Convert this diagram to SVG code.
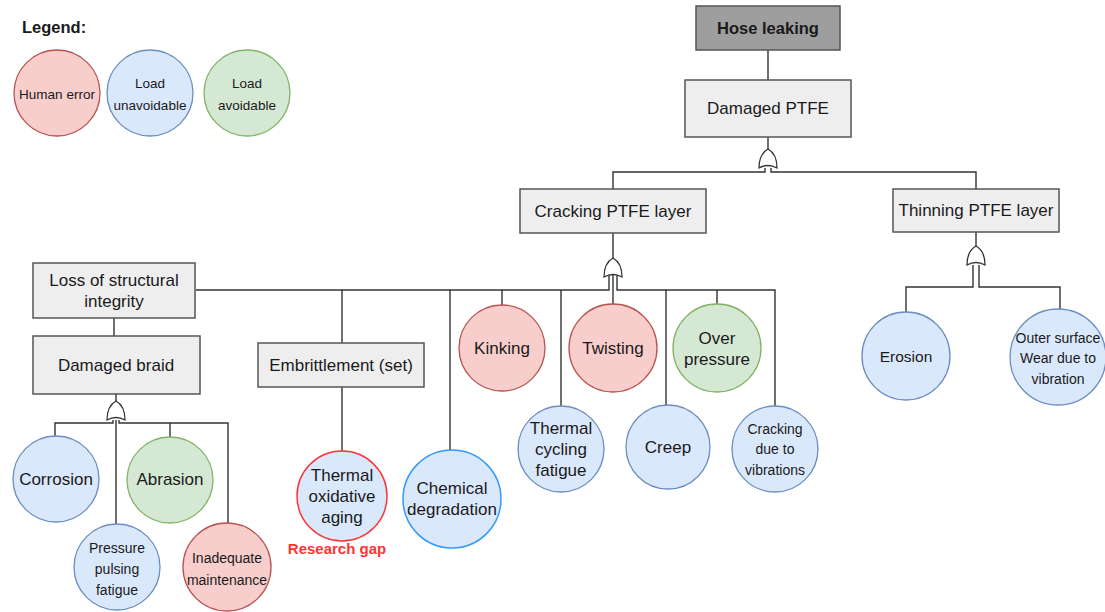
<svg xmlns="http://www.w3.org/2000/svg" width="1105" height="612" viewBox="0 0 1105 612">
<style>
text{font-family:"Liberation Sans",Arial,sans-serif;fill:#1a1a1a;text-anchor:middle;dominant-baseline:central}
.box{fill:#eeeeee;stroke:#555;stroke-width:1.5}
.top{fill:#9e9e9e;stroke:#555;stroke-width:1.5}
.red{fill:#f8cecc;stroke:#b85450;stroke-width:1.3}
.blue{fill:#dae8fc;stroke:#6c8ebf;stroke-width:1.3}
.green{fill:#d5e8d4;stroke:#82b366;stroke-width:1.3}
.gap{fill:#dae8fc;stroke:#ff3333;stroke-width:1.5}
.chem{fill:#dae8fc;stroke:#3399ff;stroke-width:1.5}
.gate{fill:#fff;stroke:#333;stroke-width:1.3}
.c{fill:none;stroke:#333;stroke-width:1.4}
.t17{font-size:17px}
.t14{font-size:14px}
</style>
<defs>
<path id="or" d="M-9,10 Q-9,-4 0,-9 Q9,-4 9,10 Q0,5 -9,10 Z"/>
</defs>
<rect width="1105" height="612" fill="#fff"/>

<g id="connectors">
<line class="c" x1="768" y1="50" x2="768" y2="80"/>
<line class="c" x1="768" y1="137" x2="768" y2="150"/>
<polyline class="c" points="765,168 765,172 613,172 613,189"/>
<polyline class="c" points="771,168 771,172 976,172 976,189"/>
<line class="c" x1="613" y1="233" x2="613" y2="260"/>
<polyline class="c" points="609,275 609,290 196,290"/>
<polyline class="c" points="617,275 617,290 775,290 775,406"/>
<line class="c" x1="613" y1="275" x2="613" y2="304"/>
<line class="c" x1="342" y1="290" x2="342" y2="343"/>
<line class="c" x1="342" y1="387" x2="342" y2="451"/>
<line class="c" x1="450" y1="290" x2="450" y2="450"/>
<line class="c" x1="502" y1="290" x2="502" y2="305"/>
<line class="c" x1="561" y1="290" x2="561" y2="406"/>
<line class="c" x1="666" y1="290" x2="666" y2="406"/>
<line class="c" x1="717" y1="290" x2="717" y2="305"/>
<line class="c" x1="976" y1="232" x2="976" y2="248"/>
<polyline class="c" points="973,265 973,287 906,287 906,312"/>
<polyline class="c" points="979,265 979,287 1060,287 1060,309"/>
<line class="c" x1="114" y1="318" x2="114" y2="336"/>
<line class="c" x1="116" y1="394" x2="116" y2="403"/>
<polyline class="c" points="113,420 113,423 55,423 55,436"/>
<polyline class="c" points="119,420 119,423 228,423 228,523"/>
<line class="c" x1="170" y1="423" x2="170" y2="437"/>
<line class="c" x1="116" y1="420" x2="116" y2="524"/>
</g>

<g id="gates">
<use href="#or" class="gate" transform="translate(768,158)"/>
<use href="#or" class="gate" transform="translate(613,267)"/>
<use href="#or" class="gate" transform="translate(976,255)"/>
<use href="#or" class="gate" transform="translate(116,410)"/>
</g>

<g id="legend">
<text x="22" y="27" style="font-size:16.5px;font-weight:bold;text-anchor:start">Legend:</text>
<circle class="red" cx="57" cy="93" r="43"/>
<text x="57" y="94" style="font-size:13.5px">Human error</text>
<circle class="blue" cx="150" cy="93" r="43"/>
<text x="150" y="83" style="font-size:13.5px">Load</text>
<text x="150" y="105" style="font-size:13.5px">unavoidable</text>
<circle class="green" cx="247" cy="93" r="43"/>
<text x="247" y="83" style="font-size:13.5px">Load</text>
<text x="247" y="105" style="font-size:13.5px">avoidable</text>
</g>

<g id="hose-leaking">
<rect class="top" x="696" y="6" width="144" height="44"/>
<text x="768" y="28" style="font-size:16.5px;font-weight:bold">Hose leaking</text>
</g>
<g id="damaged-ptfe">
<rect class="box" x="685" y="80" width="166" height="57"/>
<text class="t17" x="768" y="108">Damaged PTFE</text>
</g>
<g id="cracking-ptfe">
<rect class="box" x="520" y="189" width="186" height="44"/>
<text class="t17" x="613" y="211">Cracking PTFE layer</text>
</g>
<g id="thinning-ptfe">
<rect class="box" x="893" y="189" width="166" height="43"/>
<text class="t17" x="976" y="210">Thinning PTFE layer</text>
</g>
<g id="loss-structural">
<rect class="box" x="33" y="263" width="162" height="55"/>
<text class="t17" x="114" y="280">Loss of structural</text>
<text class="t17" x="114" y="301">integrity</text>
</g>
<g id="damaged-braid">
<rect class="box" x="33" y="336" width="167" height="58"/>
<text class="t17" x="116" y="365">Damaged braid</text>
</g>
<g id="embrittlement">
<rect class="box" x="258" y="343" width="166" height="44"/>
<text class="t17" x="341" y="365">Embrittlement (set)</text>
</g>

<g id="corrosion">
<circle class="blue" cx="56" cy="479" r="43"/>
<text class="t17" x="56" y="479">Corrosion</text>
</g>
<g id="abrasion">
<circle class="green" cx="170" cy="480" r="43"/>
<text class="t17" x="170" y="479">Abrasion</text>
</g>
<g id="pressure-pulsing">
<circle class="blue" cx="117" cy="567" r="43"/>
<text class="t14" x="117" y="548">Pressure</text>
<text class="t14" x="117" y="569">pulsing</text>
<text class="t14" x="117" y="590">fatigue</text>
</g>
<g id="inadequate-maintenance">
<circle class="red" cx="227" cy="567" r="44"/>
<text class="t14" x="227" y="558">Inadequate</text>
<text class="t14" x="227" y="580">maintenance</text>
</g>
<g id="thermal-oxidative">
<circle class="gap" cx="342" cy="496" r="45"/>
<text class="t17" x="342" y="475">Thermal</text>
<text class="t17" x="342" y="496">oxidative</text>
<text class="t17" x="342" y="517">aging</text>
<text x="337" y="548" style="font-size:15px;font-weight:bold;fill:#ff3333">Research gap</text>
</g>
<g id="chemical-degradation">
<circle class="chem" cx="452" cy="499" r="49"/>
<text class="t17" x="452" y="488">Chemical</text>
<text class="t17" x="452" y="509">degradation</text>
</g>
<g id="kinking">
<circle class="red" cx="502" cy="348" r="43"/>
<text class="t17" x="502" y="348">Kinking</text>
</g>
<g id="thermal-cycling">
<circle class="blue" cx="561" cy="449" r="43"/>
<text class="t17" x="561" y="428">Thermal</text>
<text class="t17" x="561" y="449">cycling</text>
<text class="t17" x="561" y="470">fatigue</text>
</g>
<g id="twisting">
<circle class="red" cx="613" cy="348" r="44"/>
<text class="t17" x="613" y="348">Twisting</text>
</g>
<g id="creep">
<circle class="blue" cx="668" cy="447" r="42"/>
<text class="t17" x="668" y="447">Creep</text>
</g>
<g id="over-pressure">
<circle class="green" cx="717" cy="348" r="44"/>
<text class="t17" x="717" y="338">Over</text>
<text class="t17" x="717" y="359">pressure</text>
</g>
<g id="cracking-vibrations">
<circle class="blue" cx="775" cy="449" r="43"/>
<text class="t14" x="775" y="429">Cracking</text>
<text class="t14" x="775" y="449">due to</text>
<text class="t14" x="775" y="470">vibrations</text>
</g>
<g id="erosion">
<circle class="blue" cx="906" cy="356" r="44"/>
<text x="906" y="356" style="font-size:15.5px">Erosion</text>
</g>
<g id="outer-surface">
<circle class="blue" cx="1058" cy="357" r="48"/>
<text class="t14" x="1058" y="338">Outer surface</text>
<text class="t14" x="1058" y="358">Wear due to</text>
<text class="t14" x="1058" y="379">vibration</text>
</g>
</svg>
